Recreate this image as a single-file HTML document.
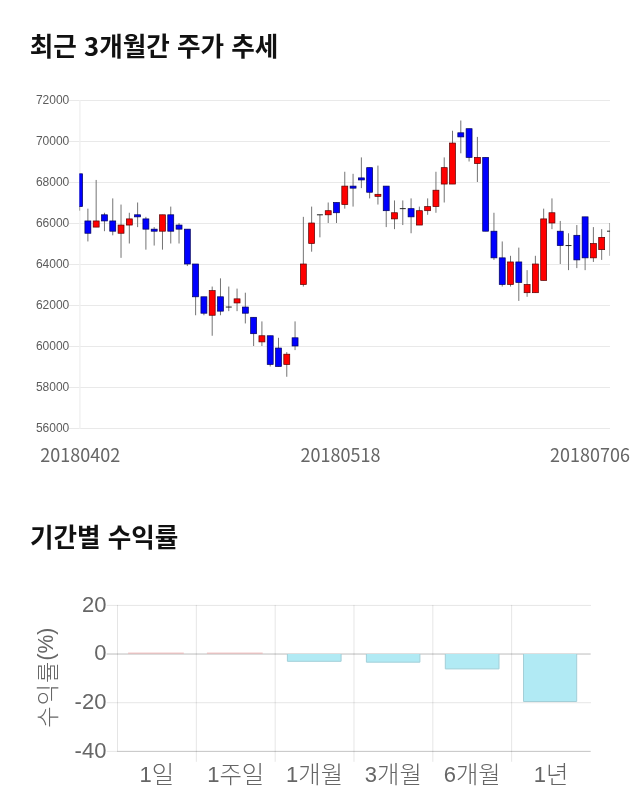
<!DOCTYPE html>
<html lang="ko"><head><meta charset="utf-8"><title>최근 3개월간 주가 추세</title>
<style>
html,body{margin:0;padding:0;background:#fff;}
body{width:640px;height:810px;overflow:hidden;position:relative;font-family:"Liberation Sans","Noto Sans CJK KR",sans-serif;}
svg{position:absolute;left:0;top:0;display:block;will-change:transform;}
.h{font-family:"Noto Sans CJK KR","Liberation Sans",sans-serif;font-weight:700;font-size:25.6px;fill:#111;}
.yl{font-family:"Liberation Sans",sans-serif;font-size:12px;fill:#5c5c5c;text-anchor:end;}
.xl{font-family:"Noto Sans CJK KR","Liberation Sans",sans-serif;font-weight:400;font-size:18px;fill:#666;}
.by{font-family:"Liberation Sans",sans-serif;font-size:22px;fill:#666;text-anchor:end;}
.bx{font-family:"Liberation Sans","Noto Sans CJK KR",sans-serif;font-weight:400;font-size:22px;fill:#666;text-anchor:middle;}
.bt{font-family:"Liberation Sans","Noto Sans CJK KR",sans-serif;font-weight:400;font-size:22px;fill:#666;text-anchor:middle;}
.k{font-family:"Noto Sans CJK KR",sans-serif;font-weight:300;font-size:24.4px;}
</style></head><body>
<svg width="640" height="810" viewBox="0 0 640 810">
<rect width="640" height="810" fill="#fff"/>
<text class="h" x="29.8" y="56">최근 3개월간 주가 추세</text>
<g shape-rendering="crispEdges">
<rect x="69" y="100" width="541" height="1" fill="#e9e9e9"/>
<rect x="69" y="141" width="541" height="1" fill="#e9e9e9"/>
<rect x="69" y="182" width="541" height="1" fill="#e9e9e9"/>
<rect x="69" y="223" width="541" height="1" fill="#e9e9e9"/>
<rect x="69" y="264" width="541" height="1" fill="#e9e9e9"/>
<rect x="69" y="305" width="541" height="1" fill="#e9e9e9"/>
<rect x="69" y="346" width="541" height="1" fill="#e9e9e9"/>
<rect x="69" y="387" width="541" height="1" fill="#e9e9e9"/>
<rect x="69" y="428" width="541" height="1" fill="#e9e9e9"/>
</g>
<rect x="79.25" y="100" width="1.3" height="329" fill="#efefef"/>
<text class="yl" x="69.3" y="103.8">72000</text>
<text class="yl" x="69.3" y="144.8">70000</text>
<text class="yl" x="69.3" y="185.8">68000</text>
<text class="yl" x="69.3" y="226.8">66000</text>
<text class="yl" x="69.3" y="267.8">64000</text>
<text class="yl" x="69.3" y="308.8">62000</text>
<text class="yl" x="69.3" y="349.8">60000</text>
<text class="yl" x="69.3" y="390.8">58000</text>
<text class="yl" x="69.3" y="431.8">56000</text>
<defs><clipPath id="cp"><rect x="79.4" y="95" width="530.65" height="340"/></clipPath></defs>
<g clip-path="url(#cp)">
<line x1="79.60" x2="79.60" y1="173.80" y2="210.70" stroke="#747474" stroke-width="1"/>
<rect x="76.62" y="173.80" width="5.95" height="32.80" fill="#0000ff" stroke="#000058" stroke-width="0.7"/>
<line x1="87.89" x2="87.89" y1="208.65" y2="241.45" stroke="#747474" stroke-width="1"/>
<rect x="84.91" y="220.95" width="5.95" height="12.30" fill="#0000ff" stroke="#000058" stroke-width="0.7"/>
<line x1="96.17" x2="96.17" y1="179.95" y2="227.10" stroke="#747474" stroke-width="1"/>
<rect x="93.20" y="220.95" width="5.95" height="6.15" fill="#ff0000" stroke="#580000" stroke-width="0.7"/>
<line x1="104.46" x2="104.46" y1="212.75" y2="231.20" stroke="#747474" stroke-width="1"/>
<rect x="101.49" y="214.80" width="5.95" height="6.15" fill="#0000ff" stroke="#000058" stroke-width="0.7"/>
<line x1="112.75" x2="112.75" y1="198.40" y2="235.30" stroke="#747474" stroke-width="1"/>
<rect x="109.77" y="220.95" width="5.95" height="10.25" fill="#0000ff" stroke="#000058" stroke-width="0.7"/>
<line x1="121.03" x2="121.03" y1="204.55" y2="257.85" stroke="#747474" stroke-width="1"/>
<rect x="118.06" y="225.05" width="5.95" height="8.20" fill="#ff0000" stroke="#580000" stroke-width="0.7"/>
<line x1="129.32" x2="129.32" y1="212.75" y2="243.50" stroke="#747474" stroke-width="1"/>
<rect x="126.35" y="218.90" width="5.95" height="6.15" fill="#ff0000" stroke="#580000" stroke-width="0.7"/>
<line x1="137.61" x2="137.61" y1="202.50" y2="227.10" stroke="#747474" stroke-width="1"/>
<rect x="134.63" y="214.80" width="5.95" height="2.05" fill="#0000ff" stroke="#000058" stroke-width="0.7"/>
<line x1="145.90" x2="145.90" y1="216.85" y2="249.65" stroke="#747474" stroke-width="1"/>
<rect x="142.92" y="218.90" width="5.95" height="10.25" fill="#0000ff" stroke="#000058" stroke-width="0.7"/>
<line x1="154.18" x2="154.18" y1="227.10" y2="245.55" stroke="#747474" stroke-width="1"/>
<rect x="151.21" y="229.15" width="5.95" height="2.05" fill="#0000ff" stroke="#000058" stroke-width="0.7"/>
<line x1="162.47" x2="162.47" y1="214.80" y2="249.65" stroke="#747474" stroke-width="1"/>
<rect x="159.50" y="214.80" width="5.95" height="16.40" fill="#ff0000" stroke="#580000" stroke-width="0.7"/>
<line x1="170.76" x2="170.76" y1="206.60" y2="243.50" stroke="#747474" stroke-width="1"/>
<rect x="167.78" y="214.80" width="5.95" height="16.40" fill="#0000ff" stroke="#000058" stroke-width="0.7"/>
<line x1="179.04" x2="179.04" y1="223.00" y2="243.50" stroke="#747474" stroke-width="1"/>
<rect x="176.07" y="225.05" width="5.95" height="4.10" fill="#0000ff" stroke="#000058" stroke-width="0.7"/>
<line x1="187.33" x2="187.33" y1="229.15" y2="266.05" stroke="#747474" stroke-width="1"/>
<rect x="184.36" y="229.15" width="5.95" height="34.85" fill="#0000ff" stroke="#000058" stroke-width="0.7"/>
<line x1="195.62" x2="195.62" y1="264.00" y2="315.25" stroke="#747474" stroke-width="1"/>
<rect x="192.64" y="264.00" width="5.95" height="32.80" fill="#0000ff" stroke="#000058" stroke-width="0.7"/>
<line x1="203.91" x2="203.91" y1="296.80" y2="315.25" stroke="#747474" stroke-width="1"/>
<rect x="200.93" y="296.80" width="5.95" height="16.40" fill="#0000ff" stroke="#000058" stroke-width="0.7"/>
<line x1="212.19" x2="212.19" y1="286.55" y2="335.75" stroke="#747474" stroke-width="1"/>
<rect x="209.22" y="290.65" width="5.95" height="24.60" fill="#ff0000" stroke="#580000" stroke-width="0.7"/>
<line x1="220.48" x2="220.48" y1="278.35" y2="315.25" stroke="#747474" stroke-width="1"/>
<rect x="217.50" y="296.80" width="5.95" height="14.35" fill="#0000ff" stroke="#000058" stroke-width="0.7"/>
<line x1="228.77" x2="228.77" y1="286.55" y2="311.15" stroke="#747474" stroke-width="1"/>
<line x1="225.79" x2="231.74" y1="307.05" y2="307.05" stroke="#222" stroke-width="1"/>
<line x1="237.05" x2="237.05" y1="288.60" y2="311.15" stroke="#747474" stroke-width="1"/>
<rect x="234.08" y="298.85" width="5.95" height="4.10" fill="#ff0000" stroke="#580000" stroke-width="0.7"/>
<line x1="245.34" x2="245.34" y1="292.70" y2="323.45" stroke="#747474" stroke-width="1"/>
<rect x="242.37" y="307.05" width="5.95" height="6.15" fill="#0000ff" stroke="#000058" stroke-width="0.7"/>
<line x1="253.63" x2="253.63" y1="317.30" y2="346.00" stroke="#747474" stroke-width="1"/>
<rect x="250.65" y="317.30" width="5.95" height="16.40" fill="#0000ff" stroke="#000058" stroke-width="0.7"/>
<line x1="261.91" x2="261.91" y1="321.40" y2="346.00" stroke="#747474" stroke-width="1"/>
<rect x="258.94" y="335.75" width="5.95" height="6.15" fill="#ff0000" stroke="#580000" stroke-width="0.7"/>
<line x1="270.20" x2="270.20" y1="335.75" y2="366.50" stroke="#747474" stroke-width="1"/>
<rect x="267.23" y="335.75" width="5.95" height="28.70" fill="#0000ff" stroke="#000058" stroke-width="0.7"/>
<line x1="278.49" x2="278.49" y1="337.80" y2="366.50" stroke="#747474" stroke-width="1"/>
<rect x="275.51" y="348.05" width="5.95" height="18.45" fill="#0000ff" stroke="#000058" stroke-width="0.7"/>
<line x1="286.77" x2="286.77" y1="352.15" y2="376.75" stroke="#747474" stroke-width="1"/>
<rect x="283.80" y="354.20" width="5.95" height="10.25" fill="#ff0000" stroke="#580000" stroke-width="0.7"/>
<line x1="295.06" x2="295.06" y1="321.40" y2="350.10" stroke="#747474" stroke-width="1"/>
<rect x="292.09" y="337.80" width="5.95" height="8.20" fill="#0000ff" stroke="#000058" stroke-width="0.7"/>
<line x1="303.35" x2="303.35" y1="216.85" y2="286.55" stroke="#747474" stroke-width="1"/>
<rect x="300.37" y="264.00" width="5.95" height="20.50" fill="#ff0000" stroke="#580000" stroke-width="0.7"/>
<line x1="311.64" x2="311.64" y1="206.60" y2="251.70" stroke="#747474" stroke-width="1"/>
<rect x="308.66" y="223.00" width="5.95" height="20.50" fill="#ff0000" stroke="#580000" stroke-width="0.7"/>
<line x1="319.92" x2="319.92" y1="214.80" y2="237.35" stroke="#747474" stroke-width="1"/>
<line x1="316.95" x2="322.90" y1="214.80" y2="214.80" stroke="#222" stroke-width="1"/>
<line x1="328.21" x2="328.21" y1="202.50" y2="223.00" stroke="#747474" stroke-width="1"/>
<rect x="325.24" y="210.70" width="5.95" height="4.10" fill="#ff0000" stroke="#580000" stroke-width="0.7"/>
<line x1="336.50" x2="336.50" y1="202.50" y2="223.00" stroke="#747474" stroke-width="1"/>
<rect x="333.52" y="202.50" width="5.95" height="10.25" fill="#0000ff" stroke="#000058" stroke-width="0.7"/>
<line x1="344.78" x2="344.78" y1="171.75" y2="208.65" stroke="#747474" stroke-width="1"/>
<rect x="341.81" y="186.10" width="5.95" height="18.45" fill="#ff0000" stroke="#580000" stroke-width="0.7"/>
<line x1="353.07" x2="353.07" y1="173.80" y2="206.60" stroke="#747474" stroke-width="1"/>
<rect x="350.10" y="186.10" width="5.95" height="2.05" fill="#0000ff" stroke="#000058" stroke-width="0.7"/>
<line x1="361.36" x2="361.36" y1="157.40" y2="188.15" stroke="#747474" stroke-width="1"/>
<rect x="358.38" y="177.90" width="5.95" height="2.05" fill="#0000ff" stroke="#000058" stroke-width="0.7"/>
<line x1="369.64" x2="369.64" y1="167.65" y2="198.40" stroke="#747474" stroke-width="1"/>
<rect x="366.67" y="167.65" width="5.95" height="24.60" fill="#0000ff" stroke="#000058" stroke-width="0.7"/>
<line x1="377.93" x2="377.93" y1="165.60" y2="204.55" stroke="#747474" stroke-width="1"/>
<rect x="374.96" y="194.30" width="5.95" height="2.05" fill="#ff0000" stroke="#580000" stroke-width="0.7"/>
<line x1="386.22" x2="386.22" y1="186.10" y2="227.10" stroke="#747474" stroke-width="1"/>
<rect x="383.24" y="186.10" width="5.95" height="24.60" fill="#0000ff" stroke="#000058" stroke-width="0.7"/>
<line x1="394.51" x2="394.51" y1="200.45" y2="229.15" stroke="#747474" stroke-width="1"/>
<rect x="391.53" y="212.75" width="5.95" height="6.15" fill="#ff0000" stroke="#580000" stroke-width="0.7"/>
<line x1="402.79" x2="402.79" y1="200.45" y2="225.05" stroke="#747474" stroke-width="1"/>
<line x1="399.82" x2="405.77" y1="208.65" y2="208.65" stroke="#222" stroke-width="1"/>
<line x1="411.08" x2="411.08" y1="198.40" y2="233.25" stroke="#747474" stroke-width="1"/>
<rect x="408.11" y="208.65" width="5.95" height="8.20" fill="#0000ff" stroke="#000058" stroke-width="0.7"/>
<line x1="419.37" x2="419.37" y1="206.60" y2="225.05" stroke="#747474" stroke-width="1"/>
<rect x="416.39" y="210.70" width="5.95" height="14.35" fill="#ff0000" stroke="#580000" stroke-width="0.7"/>
<line x1="427.65" x2="427.65" y1="198.40" y2="214.80" stroke="#747474" stroke-width="1"/>
<rect x="424.68" y="206.60" width="5.95" height="4.10" fill="#ff0000" stroke="#580000" stroke-width="0.7"/>
<line x1="435.94" x2="435.94" y1="171.75" y2="212.75" stroke="#747474" stroke-width="1"/>
<rect x="432.97" y="190.20" width="5.95" height="16.40" fill="#ff0000" stroke="#580000" stroke-width="0.7"/>
<line x1="444.23" x2="444.23" y1="157.40" y2="202.50" stroke="#747474" stroke-width="1"/>
<rect x="441.25" y="167.65" width="5.95" height="16.40" fill="#ff0000" stroke="#580000" stroke-width="0.7"/>
<line x1="452.51" x2="452.51" y1="130.75" y2="184.05" stroke="#747474" stroke-width="1"/>
<rect x="449.54" y="143.05" width="5.95" height="41.00" fill="#ff0000" stroke="#580000" stroke-width="0.7"/>
<line x1="460.80" x2="460.80" y1="120.50" y2="153.30" stroke="#747474" stroke-width="1"/>
<rect x="457.83" y="132.80" width="5.95" height="4.10" fill="#0000ff" stroke="#000058" stroke-width="0.7"/>
<line x1="469.09" x2="469.09" y1="128.70" y2="161.50" stroke="#747474" stroke-width="1"/>
<rect x="466.11" y="128.70" width="5.95" height="28.70" fill="#0000ff" stroke="#000058" stroke-width="0.7"/>
<line x1="477.38" x2="477.38" y1="136.90" y2="182.00" stroke="#747474" stroke-width="1"/>
<rect x="474.40" y="157.40" width="5.95" height="6.15" fill="#ff0000" stroke="#580000" stroke-width="0.7"/>
<line x1="485.66" x2="485.66" y1="157.40" y2="231.20" stroke="#747474" stroke-width="1"/>
<rect x="482.69" y="157.40" width="5.95" height="73.80" fill="#0000ff" stroke="#000058" stroke-width="0.7"/>
<line x1="493.95" x2="493.95" y1="212.75" y2="259.90" stroke="#747474" stroke-width="1"/>
<rect x="490.98" y="231.20" width="5.95" height="26.65" fill="#0000ff" stroke="#000058" stroke-width="0.7"/>
<line x1="502.24" x2="502.24" y1="241.45" y2="286.55" stroke="#747474" stroke-width="1"/>
<rect x="499.26" y="257.85" width="5.95" height="26.65" fill="#0000ff" stroke="#000058" stroke-width="0.7"/>
<line x1="510.52" x2="510.52" y1="255.80" y2="286.55" stroke="#747474" stroke-width="1"/>
<rect x="507.55" y="261.95" width="5.95" height="22.55" fill="#ff0000" stroke="#580000" stroke-width="0.7"/>
<line x1="518.81" x2="518.81" y1="247.60" y2="300.90" stroke="#747474" stroke-width="1"/>
<rect x="515.84" y="261.95" width="5.95" height="20.50" fill="#0000ff" stroke="#000058" stroke-width="0.7"/>
<line x1="527.10" x2="527.10" y1="270.15" y2="296.80" stroke="#747474" stroke-width="1"/>
<rect x="524.12" y="284.50" width="5.95" height="8.20" fill="#ff0000" stroke="#580000" stroke-width="0.7"/>
<line x1="535.38" x2="535.38" y1="255.80" y2="292.70" stroke="#747474" stroke-width="1"/>
<rect x="532.41" y="264.00" width="5.95" height="28.70" fill="#ff0000" stroke="#580000" stroke-width="0.7"/>
<line x1="543.67" x2="543.67" y1="208.65" y2="280.40" stroke="#747474" stroke-width="1"/>
<rect x="540.70" y="218.90" width="5.95" height="61.50" fill="#ff0000" stroke="#580000" stroke-width="0.7"/>
<line x1="551.96" x2="551.96" y1="198.40" y2="229.15" stroke="#747474" stroke-width="1"/>
<rect x="548.98" y="212.75" width="5.95" height="10.25" fill="#ff0000" stroke="#580000" stroke-width="0.7"/>
<line x1="560.25" x2="560.25" y1="220.95" y2="264.00" stroke="#747474" stroke-width="1"/>
<rect x="557.27" y="231.20" width="5.95" height="14.35" fill="#0000ff" stroke="#000058" stroke-width="0.7"/>
<line x1="568.53" x2="568.53" y1="233.25" y2="270.15" stroke="#747474" stroke-width="1"/>
<line x1="565.56" x2="571.51" y1="245.55" y2="245.55" stroke="#222" stroke-width="1"/>
<line x1="576.82" x2="576.82" y1="225.05" y2="268.10" stroke="#747474" stroke-width="1"/>
<rect x="573.85" y="235.30" width="5.95" height="24.60" fill="#0000ff" stroke="#000058" stroke-width="0.7"/>
<line x1="585.11" x2="585.11" y1="216.85" y2="270.15" stroke="#747474" stroke-width="1"/>
<rect x="582.13" y="216.85" width="5.95" height="41.00" fill="#0000ff" stroke="#000058" stroke-width="0.7"/>
<line x1="593.39" x2="593.39" y1="227.10" y2="261.95" stroke="#747474" stroke-width="1"/>
<rect x="590.42" y="243.50" width="5.95" height="14.35" fill="#ff0000" stroke="#580000" stroke-width="0.7"/>
<line x1="601.68" x2="601.68" y1="229.15" y2="259.90" stroke="#747474" stroke-width="1"/>
<rect x="598.71" y="237.35" width="5.95" height="12.30" fill="#ff0000" stroke="#580000" stroke-width="0.7"/>
<line x1="609.97" x2="609.97" y1="223.00" y2="255.80" stroke="#747474" stroke-width="1"/>
<line x1="606.99" x2="612.94" y1="231.20" y2="231.20" stroke="#222" stroke-width="1"/>
</g>
<text class="xl" transform="translate(40.3,462.4) scale(1,1.055)">20180402</text>
<text class="xl" transform="translate(300.5,462.4) scale(1,1.055)">20180518</text>
<text class="xl" transform="translate(550,462.4) scale(1,1.055)">20180706</text>
<text class="h" x="29.9" y="546.5">기간별 수익률</text>
<rect x="106.6" y="604.90" width="484.38" height="1" fill="rgba(0,0,0,0.1)"/>
<rect x="106.6" y="653.50" width="484.38" height="1" fill="rgba(0,0,0,0.1)"/>
<rect x="106.6" y="702.20" width="484.38" height="1" fill="rgba(0,0,0,0.1)"/>
<rect x="106.6" y="750.85" width="484.38" height="1" fill="rgba(0,0,0,0.1)"/>
<rect x="117.00" y="604.9" width="1" height="146.95" fill="rgba(0,0,0,0.1)"/>
<rect x="195.83" y="604.9" width="1" height="156.90" fill="rgba(0,0,0,0.1)"/>
<rect x="274.66" y="604.9" width="1" height="156.90" fill="rgba(0,0,0,0.1)"/>
<rect x="353.49" y="604.9" width="1" height="156.90" fill="rgba(0,0,0,0.1)"/>
<rect x="432.32" y="604.9" width="1" height="156.90" fill="rgba(0,0,0,0.1)"/>
<rect x="511.15" y="604.9" width="1" height="156.90" fill="rgba(0,0,0,0.1)"/>
<rect x="106.6" y="653.6" width="483.88" height="0.85" fill="rgba(0,0,0,0.2)"/>
<rect x="117.50" y="750.85" width="472.98" height="1" fill="rgba(0,0,0,0.15)"/>
<text class="by" x="106.4" y="611.6">20</text>
<text class="by" x="106.4" y="660.2">0</text>
<text class="by" x="106.4" y="708.9">-20</text>
<text class="by" x="106.4" y="757.6">-40</text>
<rect x="128.10" y="652.7" width="55.70" height="0.8" fill="#eaa6a6"/>
<text class="bx" x="156.91" y="781.6">1<tspan class="k" dy="1">일</tspan></text>
<rect x="206.90" y="652.7" width="55.80" height="0.8" fill="#eaa6a6"/>
<text class="bx" x="235.75" y="781.6">1<tspan class="k" dy="1">주일</tspan></text>
<rect x="287.40" y="654" width="53.70" height="7.30" fill="#b1eaf4"/>
<path d="M287.40,654 V661.30 H341.10 V654" fill="none" stroke="#a3cfd8" stroke-width="1"/>
<text class="bx" x="314.57" y="781.6">1<tspan class="k" dy="1">개월</tspan></text>
<rect x="366.40" y="654" width="53.50" height="8.20" fill="#b1eaf4"/>
<path d="M366.40,654 V662.20 H419.90 V654" fill="none" stroke="#a3cfd8" stroke-width="1"/>
<text class="bx" x="393.40" y="781.6">3<tspan class="k" dy="1">개월</tspan></text>
<rect x="445.30" y="654" width="53.70" height="14.90" fill="#b1eaf4"/>
<path d="M445.30,654 V668.90 H499.00 V654" fill="none" stroke="#a3cfd8" stroke-width="1"/>
<text class="bx" x="472.24" y="781.6">6<tspan class="k" dy="1">개월</tspan></text>
<rect x="523.50" y="654" width="53.20" height="47.50" fill="#b1eaf4"/>
<path d="M523.50,654 V701.50 H576.70 V654" fill="none" stroke="#a3cfd8" stroke-width="1"/>
<text class="bx" x="551.07" y="781.6">1<tspan class="k" dy="1">년</tspan></text>
<text class="bt" transform="translate(55.8,677.7) rotate(-90)"><tspan class="k" style="font-size:23.2px;letter-spacing:1.05px">수익률</tspan><tspan dy="-3.1" style="font-size:21.2px">(%)</tspan></text>
</svg></body></html>
